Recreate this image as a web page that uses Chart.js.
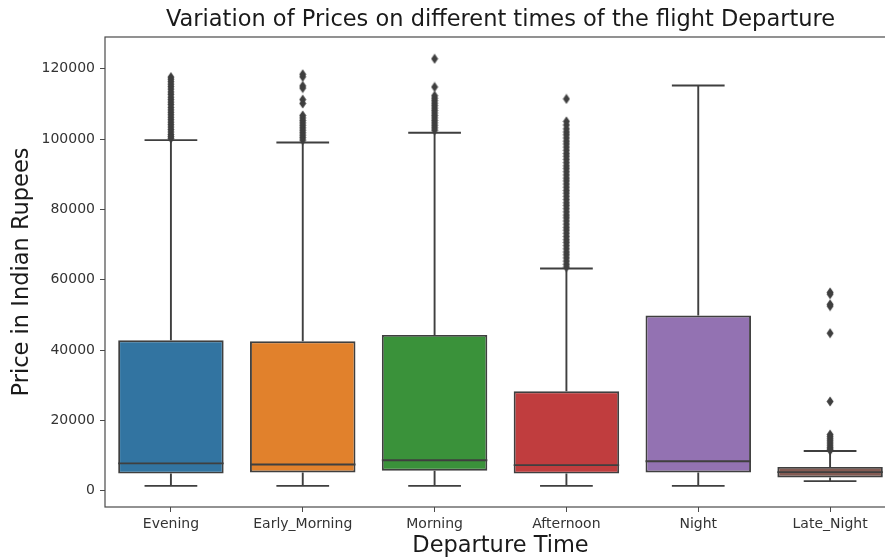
<!DOCTYPE html>
<html>
<head>
<meta charset="utf-8">
<script src="https://cdn.jsdelivr.net/npm/chart.js@4.4.1/dist/chart.umd.min.js"></script>
<style>
  html, body { margin: 0; padding: 0; background: #fff; overflow: hidden; }
  #wrap { width: 905px; height: 560px; }
</style>
</head>
<body>
<div id="wrap"><canvas id="c" width="905" height="560"></canvas></div>
<script>
const categories = ['Evening', 'Early_Morning', 'Morning', 'Afternoon', 'Night', 'Late_Night'];
const q1Values = [4900, 5200, 5700, 4900, 5200, 3800];
const medianValues = [7800, 7500, 8700, 7300, 8400, 5300];
const q3Values = [42800, 42500, 44300, 28300, 49800, 6800];
const whiskerLow = [1400, 1400, 1400, 1400, 1400, 2750];
const whiskerHigh = [99700, 99000, 101800, 63200, 115200, 11300];
const boxColors = ['#3274a1', '#e1812c', '#3a923a', '#c03d3e', '#9372b2', '#845b53'];
const yTicks = [0, 20000, 40000, 60000, 80000, 100000, 120000];

const outEvening = [117600, 117000, 116300, 115600, 114900, 114200, 113400, 112700, 111900, 111200, 110500, 109800, 109000, 108300, 107600, 106900, 106200, 105500, 104800, 104100, 103400, 102700, 102000, 101300, 100700, 100200];
const outEarlyMorning = [118400, 117700, 115100, 114500, 111200, 110100, 106700, 106000, 105300, 104600, 103900, 103200, 102500, 101800, 101100, 100400, 99700];
const outMorning = [122800, 114800, 112300, 111600, 110900, 110200, 109500, 108800, 108100, 107400, 106700, 106000, 105300, 104600, 103900, 103200, 102500];
const outAfternoon = [111400, 105000, 104000, 102900, 102000, 101200, 100300, 99400, 98600, 97700, 96800, 95900, 95100, 94200, 93300, 92400, 91600, 90700, 89800, 88900, 88100, 87200, 86300, 85400, 84600, 83700, 82800, 81900, 81100, 80200, 79300, 78400, 77600, 76700, 75800, 74900, 74100, 73200, 72300, 71400, 70600, 69700, 68800, 67900, 67100, 66200, 65300, 64400, 63600];
const outNight = [];
const outLateNight = [56400, 55900, 53000, 52500, 44800, 25400, 16000, 15400, 14800, 14200, 13600, 13000, 12400, 11900, 11500];
const outlierLists = [outEvening, outEarlyMorning, outMorning, outAfternoon, outNight, outLateNight];

const LINE = '#3f3f3f';
const FONT = 'DejaVu Sans';

// thin diamond marker
const marker = document.createElement('canvas');
marker.width = 8; marker.height = 11;
(function () {
  const m = marker.getContext('2d');
  m.fillStyle = LINE;
  m.beginPath();
  m.moveTo(4, 0.5); m.lineTo(7.5, 5.5); m.lineTo(4, 10.5); m.lineTo(0.5, 5.5);
  m.closePath(); m.fill();
})();

const boxData = categories.map((c, i) => [q1Values[i], q3Values[i]]);
const outlierData = [];
outlierLists.forEach((list, i) => list.forEach(v => outlierData.push({ x: categories[i], y: v })));

const boxPlugin = {
  id: 'boxParts',
  beforeDatasetsDraw(chart) {
    const { ctx, chartArea: a, scales: { y } } = chart;
    const meta = chart.getDatasetMeta(1);
    ctx.save();
    ctx.strokeStyle = '#4a4a4a';
    ctx.lineWidth = 1.2;
    ctx.strokeRect(a.left, a.top, a.right - a.left, a.bottom - a.top);
    ctx.strokeStyle = LINE;
    ctx.lineWidth = 1.9;
    meta.data.forEach((bar, i) => {
      const x = bar.x;
      const half = bar.width / 4;
      const yq1 = y.getPixelForValue(q1Values[i]);
      const yq3 = y.getPixelForValue(q3Values[i]);
      const ylo = y.getPixelForValue(whiskerLow[i]);
      const yhi = y.getPixelForValue(whiskerHigh[i]);
      ctx.beginPath();
      ctx.moveTo(x, yq1); ctx.lineTo(x, ylo);
      ctx.moveTo(x, yq3); ctx.lineTo(x, yhi);
      ctx.moveTo(x - half, ylo); ctx.lineTo(x + half, ylo);
      ctx.moveTo(x - half, yhi); ctx.lineTo(x + half, yhi);
      ctx.stroke();
    });
    ctx.restore();
  },
  afterDatasetsDraw(chart) {
    const { ctx, scales: { y } } = chart;
    const meta = chart.getDatasetMeta(1);
    ctx.save();
    ctx.strokeStyle = LINE;
    ctx.lineWidth = 1.9;
    meta.data.forEach((bar, i) => {
      const ym = y.getPixelForValue(medianValues[i]);
      ctx.beginPath();
      ctx.moveTo(bar.x - bar.width / 2, ym);
      ctx.lineTo(bar.x + bar.width / 2, ym);
      ctx.stroke();
    });
    ctx.restore();
  }
};

new Chart(document.getElementById('c'), {
  type: 'bar',
  data: {
    labels: categories,
    datasets: [
      {
        type: 'scatter',
        label: 'outliers',
        data: outlierData,
        pointStyle: marker,
        radius: 4,
        order: 0
      },
      {
        type: 'bar',
        label: 'box',
        data: boxData,
        backgroundColor: boxColors,
        borderColor: LINE,
        borderWidth: 1.9,
        borderSkipped: false,
        barPercentage: 0.8,
        categoryPercentage: 1.0,
        order: 1
      }
    ]
  },
  options: {
    responsive: false,
    animation: false,
    devicePixelRatio: 1,
    layout: { padding: { left: 0, right: 9, top: 0, bottom: 0 } },
    plugins: {
      legend: { display: false },
      tooltip: { enabled: false },
      title: {
        display: true,
        text: 'Variation of Prices on different times of the flight Departure',
        fullSize: false,
        color: '#1a1a1a',
        font: { family: FONT, size: 22.5, weight: 'normal', lineHeight: 1.2 },
        padding: { top: 6.5, bottom: 3.5 }
      }
    },
    scales: {
      x: {
        type: 'category',
        offset: true,
        grid: { offset: false, drawOnChartArea: false, drawTicks: true, tickLength: 5, color: '#4a4a4a', tickColor: '#4a4a4a' },
        border: { display: false },
        ticks: { color: '#333', font: { family: FONT, size: 14 }, padding: 4, maxRotation: 0, autoSkip: false },
        title: { display: true, text: 'Departure Time', color: '#1a1a1a', font: { family: FONT, size: 22.5, lineHeight: 1.2 }, padding: { top: 0, bottom: 0.5 } },
        afterFit(scale) { scale.height = 53; }
      },
      y: {
        type: 'linear',
        min: -4600,
        max: 129000,
        grid: { drawOnChartArea: false, drawTicks: true, tickLength: 5, color: '#4a4a4a', tickColor: '#4a4a4a' },
        border: { display: false },
        afterBuildTicks(scale) { scale.ticks = yTicks.map(v => ({ value: v })); },
        ticks: { color: '#333', font: { family: FONT, size: 14 }, padding: 5, callback: v => String(v) },
        title: { display: true, text: 'Price in Indian Rupees', color: '#1a1a1a', font: { family: FONT, size: 22.5, lineHeight: 1.2 }, padding: { top: 8.5, bottom: 0 } },
        afterFit(scale) { scale.width = 105; }
      }
    }
  },
  plugins: [boxPlugin]
});
</script>
</body>
</html>
